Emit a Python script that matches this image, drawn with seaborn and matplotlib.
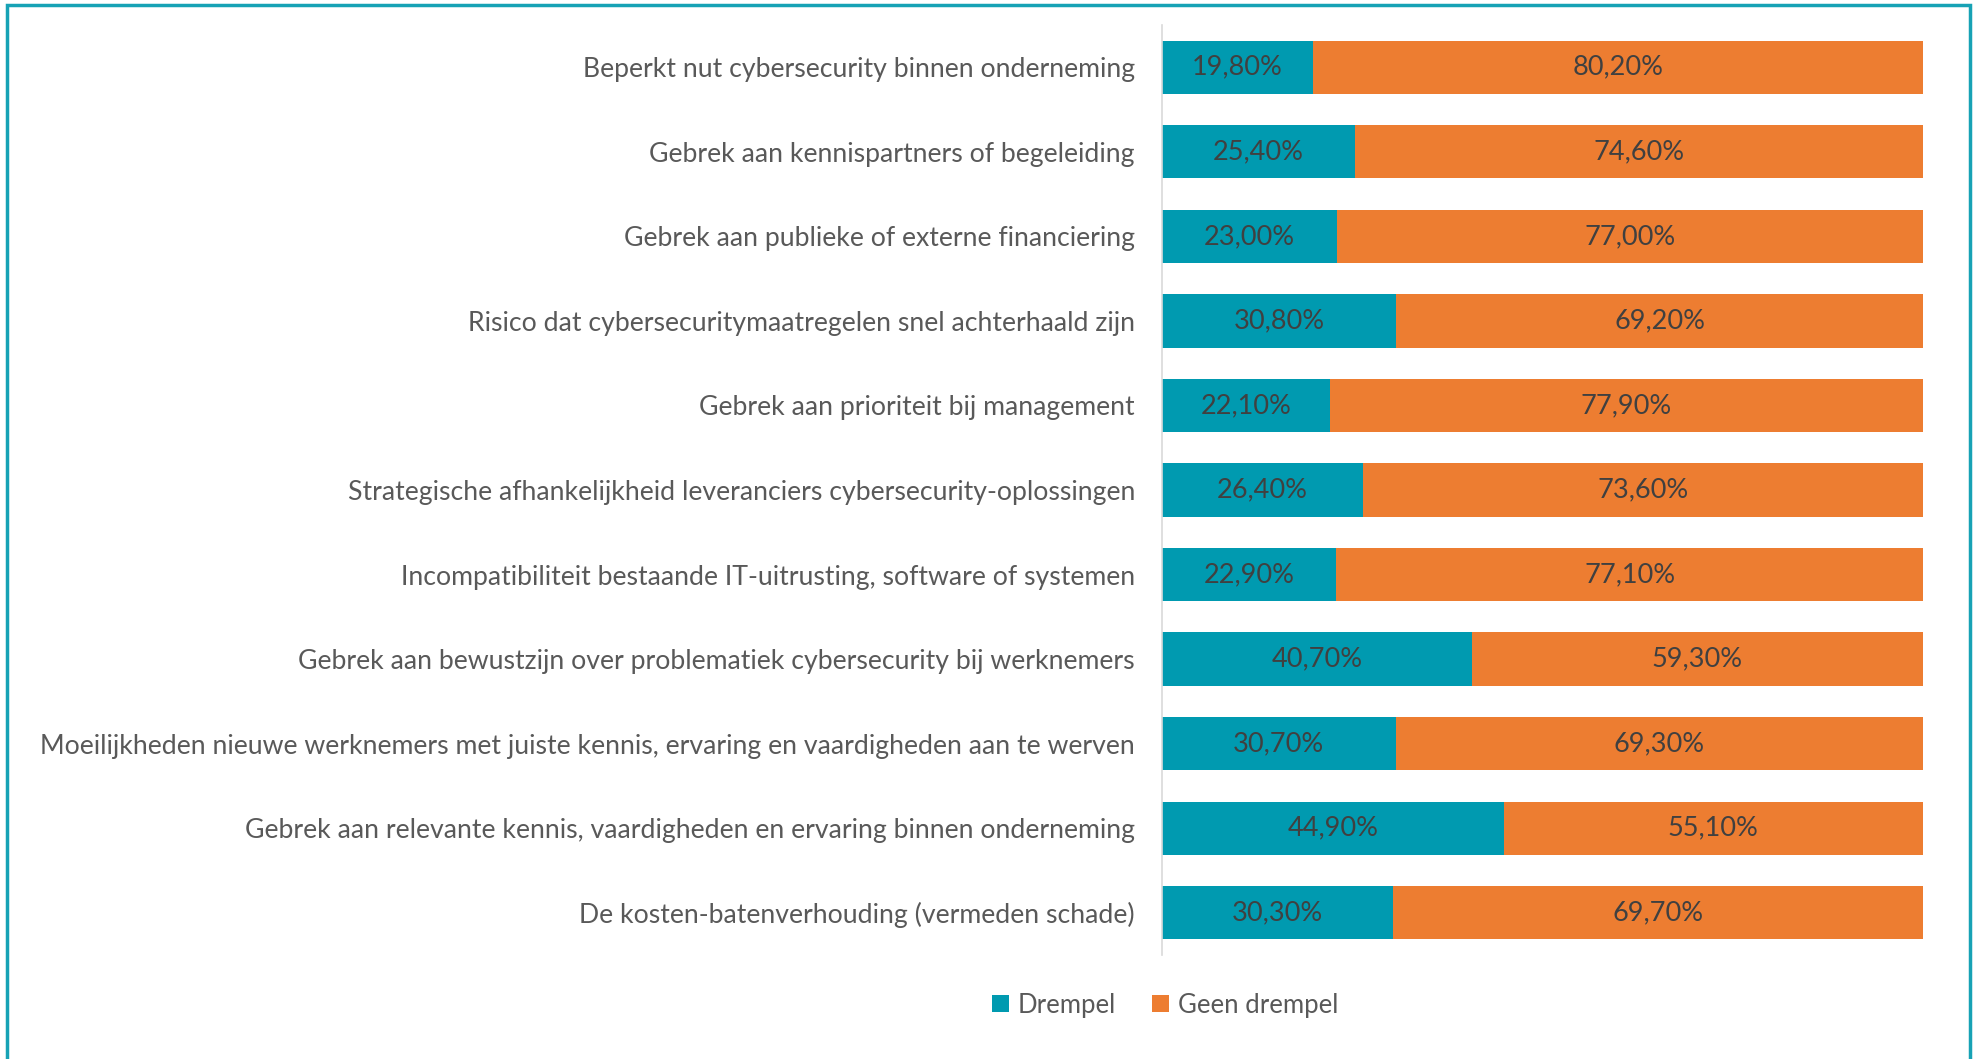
import matplotlib
matplotlib.use("Agg")
import matplotlib.pyplot as plt
import seaborn as sns
import pandas as pd
from matplotlib.patches import Rectangle, Patch

categories = [
    "Beperkt nut cybersecurity binnen onderneming",
    "Gebrek aan kennispartners of begeleiding",
    "Gebrek aan publieke of externe financiering",
    "Risico dat cybersecuritymaatregelen snel achterhaald zijn",
    "Gebrek aan prioriteit bij management",
    "Strategische afhankelijkheid leveranciers cybersecurity-oplossingen",
    "Incompatibiliteit bestaande IT-uitrusting, software of systemen",
    "Gebrek aan bewustzijn over problematiek cybersecurity bij werknemers",
    "Moeilijkheden nieuwe werknemers met juiste kennis, ervaring en vaardigheden aan te werven",
    "Gebrek aan relevante kennis, vaardigheden en ervaring binnen onderneming",
    "De kosten-batenverhouding (vermeden schade)",
]
drempel = [19.8, 25.4, 23.0, 30.8, 22.1, 26.4, 22.9, 40.7, 30.7, 44.9, 30.3]
geen_drempel = [80.2, 74.6, 77.0, 69.2, 77.9, 73.6, 77.1, 59.3, 69.3, 55.1, 69.7]
series_names = ["Drempel", "Geen drempel"]

TEAL = "#009AB0"
ORANGE = "#ED7D31"
TXT = "#595959"
LBL = "#404040"
FONT = ["Lato", "DejaVu Sans"]

sns.set_theme(style="white")
plt.rcParams["font.family"] = FONT

df = pd.DataFrame({"cat": categories, "d": drempel, "g": geen_drempel})
df["total"] = df["d"] + df["g"]

fig = plt.figure(figsize=(19.79, 10.59), dpi=100)
ax = fig.add_axes([1162 / 1979, 1 - 955 / 1059, (1923 - 1162) / 1979, 930 / 1059])

sns.barplot(data=df, y="cat", x="total", color=ORANGE, saturation=1, width=0.63,
            orient="h", ax=ax, edgecolor="none")
sns.barplot(data=df, y="cat", x="d", color=TEAL, saturation=1, width=0.63,
            orient="h", ax=ax, edgecolor="none")

ax.set_xlim(0, 100)
ax.set_ylim(len(categories) - 0.5, -0.5)
ax.set_xlabel("")
ax.set_ylabel("")
ax.set_xticks([])
ax.tick_params(axis="y", length=0, pad=19.5, labelsize=19.2, labelcolor=TXT)
for s in ["top", "right", "bottom"]:
    ax.spines[s].set_visible(False)
ax.spines["left"].set_color("#D9D9D9")
ax.spines["left"].set_linewidth(1.2)

def fmt(v):
    return f"{v:.2f}".replace(".", ",") + "%"

for i, (d, g) in enumerate(zip(drempel, geen_drempel)):
    ax.text(d / 2, i, fmt(d), ha="center", va="center", fontsize=19.5, color=LBL)
    ax.text(d + g / 2, i, fmt(g), ha="center", va="center", fontsize=19.5, color=LBL)

handles = [Patch(facecolor=TEAL, edgecolor="none"), Patch(facecolor=ORANGE, edgecolor="none")]
fig.legend(handles, series_names, loc="center", bbox_to_anchor=(1165 / 1979, 1 - 1005 / 1059),
           ncol=2, frameon=False, fontsize=18.5, labelcolor=TXT, handlelength=0.65,
           handleheight=0.65, handletextpad=0.35, columnspacing=1.4)

fig.patches.append(Rectangle((7 / 1979, -0.05), (1970 - 7) / 1979, 1.05 - 5 / 1059,
                             transform=fig.transFigure, fill=False,
                             edgecolor="#17A2B5", linewidth=2.5))

fig.savefig("out.png", dpi=100, facecolor="white")
